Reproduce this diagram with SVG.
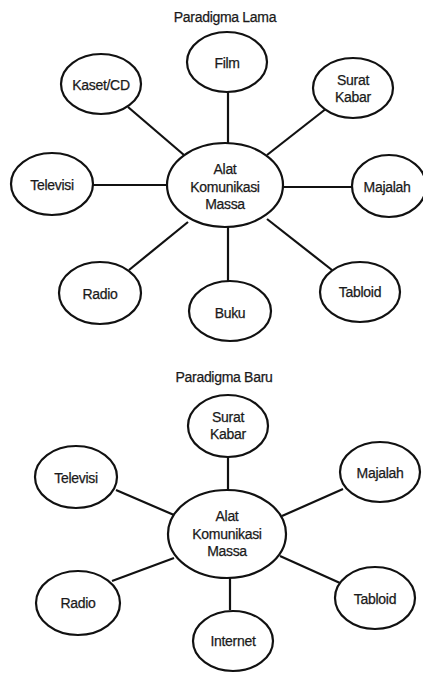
<svg xmlns="http://www.w3.org/2000/svg" width="423" height="673" viewBox="0 0 423 673">
<style>
.n ellipse{fill:#fff;stroke:#111;stroke-width:2.2}
text{font-family:"Liberation Sans",Arial,sans-serif;font-size:14px;fill:#1a1a1a;stroke:#1a1a1a;stroke-width:0.25;letter-spacing:-0.3px;text-anchor:middle;dominant-baseline:central}
#edges line{stroke:#111;stroke-width:2.2}
</style>
<rect width="423" height="673" fill="#fff"/>
<text x="225" y="17">Paradigma Lama</text>
<text x="224" y="377">Paradigma Baru</text>
<g id="edges">
<line x1="228" y1="92" x2="228" y2="144"/>
<line x1="128" y1="107" x2="184" y2="155"/>
<line x1="327" y1="108" x2="267" y2="155"/>
<line x1="93" y1="185" x2="167" y2="185"/>
<line x1="283" y1="187" x2="352" y2="187"/>
<line x1="129" y1="270" x2="188" y2="222"/>
<line x1="228" y1="227" x2="228" y2="281"/>
<line x1="267" y1="219" x2="332" y2="270"/>
<line x1="228" y1="457" x2="228" y2="491"/>
<line x1="116" y1="490" x2="174" y2="515"/>
<line x1="343" y1="489" x2="282" y2="516"/>
<line x1="112" y1="581" x2="174" y2="558"/>
<line x1="280" y1="556" x2="340" y2="583"/>
<line x1="230" y1="577" x2="230" y2="610"/>
</g>
<g id="lama-center" class="n"><ellipse cx="225" cy="185" rx="58" ry="42"/><text x="225" y="169">Alat</text><text x="225" y="187">Komunikasi</text><text x="225" y="204">Massa</text></g>
<g id="lama-film" class="n"><ellipse cx="227" cy="62" rx="40" ry="30"/><text x="227" y="63">Film</text></g>
<g id="lama-kaset" class="n"><ellipse cx="101" cy="84" rx="40" ry="30"/><text x="101" y="85">Kaset/CD</text></g>
<g id="lama-surat" class="n"><ellipse cx="353" cy="88" rx="40" ry="30"/><text x="353" y="80">Surat</text><text x="353" y="97">Kabar</text></g>
<g id="lama-televisi" class="n"><ellipse cx="52" cy="184" rx="41" ry="31"/><text x="52" y="185">Televisi</text></g>
<g id="lama-majalah" class="n"><ellipse cx="389" cy="186" rx="37" ry="31"/><text x="387" y="187">Majalah</text></g>
<g id="lama-radio" class="n"><ellipse cx="100" cy="293" rx="41" ry="31"/><text x="100" y="294">Radio</text></g>
<g id="lama-buku" class="n"><ellipse cx="230" cy="311" rx="41" ry="30"/><text x="230" y="313">Buku</text></g>
<g id="lama-tabloid" class="n"><ellipse cx="360" cy="292" rx="40" ry="30"/><text x="360" y="292">Tabloid</text></g>
<g id="baru-center" class="n"><ellipse cx="227" cy="534" rx="59" ry="44"/><text x="227" y="516">Alat</text><text x="227" y="534">Komunikasi</text><text x="227" y="551">Massa</text></g>
<g id="baru-surat" class="n"><ellipse cx="228" cy="426" rx="40" ry="31"/><text x="228" y="417">Surat</text><text x="228" y="434">Kabar</text></g>
<g id="baru-televisi" class="n"><ellipse cx="76" cy="477" rx="41" ry="31"/><text x="76" y="478">Televisi</text></g>
<g id="baru-majalah" class="n"><ellipse cx="380" cy="472" rx="40" ry="30"/><text x="380" y="473">Majalah</text></g>
<g id="baru-radio" class="n"><ellipse cx="78" cy="603" rx="42" ry="32"/><text x="78" y="603">Radio</text></g>
<g id="baru-tabloid" class="n"><ellipse cx="375" cy="598" rx="40" ry="31"/><text x="375" y="599">Tabloid</text></g>
<g id="baru-internet" class="n"><ellipse cx="233" cy="641" rx="40" ry="30"/><text x="233" y="641">Internet</text></g>
</svg>
